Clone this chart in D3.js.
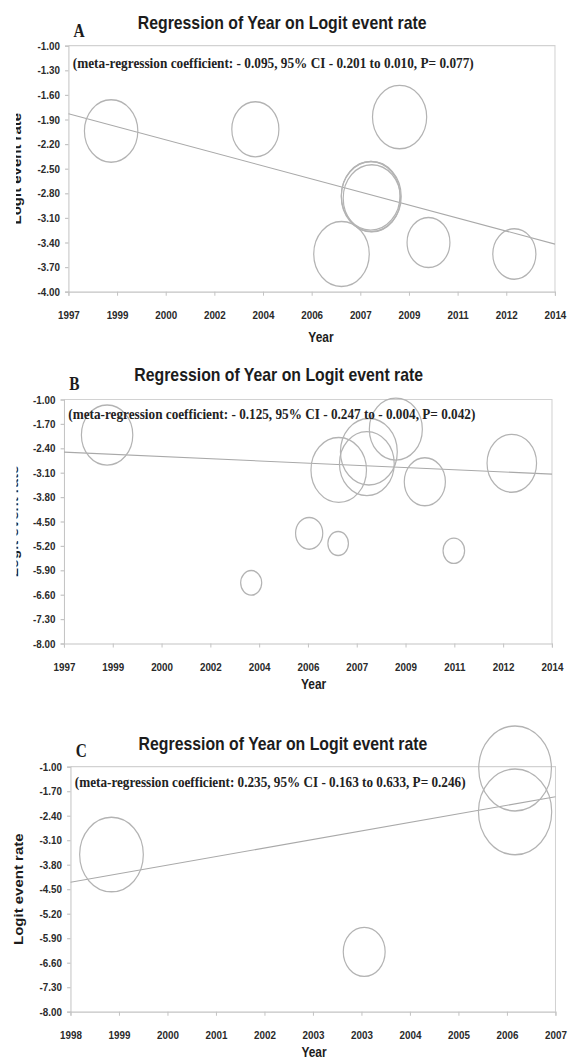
<!DOCTYPE html>
<html>
<head>
<meta charset="utf-8">
<script src="https://cdn.jsdelivr.net/npm/d3@7"></script>
<style>
  html, body { margin: 0; padding: 0; background: #fff; }
  svg { display: block; }
</style>
</head>
<body>
<svg id="fig"></svg>
<script>
// ---------------- data ----------------
// Panel A
const yearA   = [1998.49, 2003.53, 2008.57, 2007.58, 2007.56, 2007.60, 2006.54, 2009.58, 2012.58];
const logitA  = [-2.04, -2.02, -1.87, -2.84, -2.83, -2.86, -3.54, -3.40, -3.54];
const weightA = [13.5, 10.5, 13.9, 17.0, 16.3, 15.5, 14.6, 8.7, 8.8];
const lineYearA  = [1997, 2014];
const lineLogitA = [-1.83, -3.42];
const xLabelsA = ["1997", "1999", "2000", "2002", "2004", "2006", "2007", "2009", "2011", "2012", "2014"];
const yLabelsA = ["-1.00", "-1.30", "-1.60", "-1.90", "-2.20", "-2.50", "-2.80", "-3.10", "-3.40", "-3.70", "-4.00"];
const noteA = "(meta-regression coefficient: - 0.095, 95% CI - 0.201 to 0.010, P= 0.077)";

// Panel B
const yearB   = [1998.50, 2006.57, 2007.55, 2007.62, 2008.56, 2009.57, 2012.60, 2005.54, 2006.55, 2010.58, 2003.52];
const logitB  = [-2.02, -3.02, -2.84, -2.50, -1.85, -3.36, -2.83, -4.84, -5.13, -5.34, -6.26];
const weightB = [12.5, 14.6, 14.2, 15.3, 13.3, 8.0, 11.6, 3.5, 2.0, 2.2, 2.1];
const lineYearB  = [1997, 2014];
const lineLogitB = [-2.51, -3.14];
const xLabelsB = ["1997", "1999", "2000", "2002", "2004", "2006", "2007", "2009", "2011", "2012", "2014"];
const yLabelsB = ["-1.00", "-1.70", "-2.40", "-3.10", "-3.80", "-4.50", "-5.20", "-5.90", "-6.60", "-7.30", "-8.00"];
const noteB = "(meta-regression coefficient: - 0.125, 95% CI - 0.247 to - 0.004, P= 0.042)";

// Panel C
const yearC   = [1998.76, 2006.25, 2006.25, 2003.45];
const logitC  = [-3.51, -1.05, -2.29, -6.29];
const weightC = [19.2, 25.0, 25.4, 8.3];
const lineYearC  = [1998, 2007];
const lineLogitC = [-4.30, -1.86];
const xLabelsC = ["1998", "1999", "2000", "2001", "2002", "2003", "2003", "2004", "2005", "2006", "2007"];
const yLabelsC = ["-1.00", "-1.70", "-2.40", "-3.10", "-3.80", "-4.50", "-5.20", "-5.90", "-6.60", "-7.30", "-8.00"];
const noteC = "(meta-regression coefficient: 0.235, 95% CI - 0.163 to 0.633, P= 0.246)";

const titleText = "Regression of Year on Logit event rate";
const xTitle = "Year";
const yTitle = "Logit event rate";

// ---------------- layout ----------------
// Drawing happens in a horizontally stretched coordinate space that the
// viewBox compresses back to the page width (condensed figure look).
const W = 569, H = 1061, SX = 0.855;
const VW = W / SX;

const svg = d3.select("#fig")
  .attr("width", W).attr("height", H)
  .attr("viewBox", `0 0 ${VW} ${H}`)
  .attr("preserveAspectRatio", "none");

const sans = "'Liberation Sans', Arial, Helvetica, sans-serif";
const serif = "'Liberation Serif', 'Times New Roman', Times, serif";

const rScale = d3.scaleSqrt().domain([0, 1]).range([0, 8.5]);

const panels = [
  { letter: "A", year: yearA, logit: logitA, weight: weightA, lineYear: lineYearA, lineLogit: lineLogitA,
    xDomain: [1997, 2014], xLabels: xLabelsA, yLabels: yLabelsA, note: noteA,
    box: { l: 80.1, r: 649.1, t: 45.7, b: 291.7 },
    titleX: 330, titleY: 29.5, letterY: 37.5, noteY: 67.7, noteLen: 469,
    yearX: 375.4, yearY: 342, ylabX: 24.6, ylabClip: 18.7 },
  { letter: "B", year: yearB, logit: logitB, weight: weightB, lineYear: lineYearB, lineLogit: lineLogitB,
    xDomain: [1997, 2014], xLabels: xLabelsB, yLabels: yLabelsB, note: noteB,
    box: { l: 74.9, r: 645.6, t: 399.5, b: 643.5 },
    titleX: 326, titleY: 381, letterY: 390, noteY: 419, noteLen: 476,
    yearX: 366.8, yearY: 689, ylabX: 21.6, ylabClip: 19.3 },
  { letter: "C", year: yearC, logit: logitC, weight: weightC, lineYear: lineYearC, lineLogit: lineLogitC,
    xDomain: [1998, 2007], xLabels: xLabelsC, yLabels: yLabelsC, note: noteC,
    box: { l: 82.5, r: 649.7, t: 766.7, b: 1011.7 },
    titleX: 331, titleY: 750, letterY: 757.5, noteY: 787.3, noteLen: 457,
    yearX: 367.3, yearY: 1057, ylabX: 26.9, ylabClip: null }
];

panels.forEach((p, pi) => {
  const g = svg.append("g").attr("class", "panel-" + p.letter);
  const b = p.box;

  const yVals = p.yLabels.map(Number);
  const x = d3.scaleLinear().domain(p.xDomain).range([b.l, b.r]);
  const y = d3.scaleLinear().domain([yVals[0], yVals[yVals.length - 1]]).range([b.t, b.b]);

  const xTickVals = d3.range(p.xLabels.length)
    .map(i => p.xDomain[0] + i * (p.xDomain[1] - p.xDomain[0]) / (p.xLabels.length - 1));

  // plot frame (top and right edges)
  g.append("path")
    .attr("d", `M${b.l},${b.t}H${b.r}V${b.b}`)
    .attr("fill", "none").attr("stroke", "#d2d2d2").attr("stroke-width", 1.2);

  // axes
  const yAxis = d3.axisLeft(y).tickValues(yVals)
    .tickFormat((d, i) => p.yLabels[i]).tickSizeOuter(0).tickSize(4).tickPadding(6);
  const xAxis = d3.axisBottom(x).tickValues(xTickVals)
    .tickFormat((d, i) => p.xLabels[i]).tickSizeOuter(0).tickSize(4).tickPadding(15);

  const ya = g.append("g").attr("transform", `translate(${b.l},0)`).call(yAxis);
  const xa = g.append("g").attr("transform", `translate(0,${b.b})`).call(xAxis);
  [ya, xa].forEach(a => {
    a.select(".domain").attr("stroke", "#c4c4c4").attr("stroke-width", 1.2);
    a.selectAll(".tick line").attr("stroke", "#c4c4c4").attr("stroke-width", 1.2);
    a.selectAll(".tick text")
      .attr("fill", "#2a2a2a")
      .style("font-family", sans).style("font-weight", "bold").style("font-size", "11.5px");
  });

  // regression line
  g.append("line")
    .attr("x1", x(p.lineYear[0])).attr("y1", y(p.lineLogit[0]))
    .attr("x2", x(p.lineYear[1])).attr("y2", y(p.lineLogit[1]))
    .attr("stroke", "#a9a9a9").attr("stroke-width", 1.1);

  // study bubbles
  const studies = p.year.map((yr, i) => ({ yr, lg: p.logit[i], w: p.weight[i] }));
  g.append("g").selectAll("circle").data(studies).join("circle")
    .attr("cx", d => x(d.yr))
    .attr("cy", d => y(d.lg))
    .attr("r", d => rScale(d.w))
    .attr("fill", "none")
    .attr("stroke", "#b3b3b3")
    .attr("stroke-width", 1.4);

  // title
  g.append("text")
    .attr("x", p.titleX).attr("y", p.titleY)
    .attr("text-anchor", "middle")
    .attr("fill", "#1c1c1c")
    .style("font-family", sans).style("font-weight", "bold").style("font-size", "18.5px")
    .text(titleText);

  // panel letter
  g.append("text")
    .attr("x", b.l + 6).attr("y", p.letterY)
    .attr("fill", "#1c1c1c")
    .style("font-family", serif).style("font-weight", "bold").style("font-size", "18px")
    .text(p.letter);

  // meta-regression note
  g.append("text")
    .attr("x", b.l + 5).attr("y", p.noteY)
    .attr("fill", "#222")
    .attr("textLength", p.noteLen).attr("lengthAdjust", "spacingAndGlyphs")
    .style("font-family", serif).style("font-weight", "bold").style("font-size", "14px")
    .text(p.note);

  // x title
  g.append("text")
    .attr("x", p.yearX).attr("y", p.yearY)
    .attr("text-anchor", "middle")
    .attr("fill", "#1c1c1c")
    .style("font-family", sans).style("font-weight", "bold").style("font-size", "14px")
    .text(xTitle);

  // y title (left part trimmed by the panel edge where applicable)
  let yl = g;
  if (p.ylabClip !== null) {
    const cid = "ylab-clip-" + pi;
    svg.append("defs").append("clipPath").attr("id", cid)
      .append("rect").attr("x", p.ylabClip).attr("y", b.t).attr("width", 40).attr("height", b.b - b.t);
    yl = g.append("g").attr("clip-path", `url(#${cid})`);
  }
  yl.append("text")
    .attr("transform", `translate(${p.ylabX},${(b.t + b.b) / 2}) rotate(-90)`)
    .attr("text-anchor", "middle")
    .attr("fill", "#1c1c1c")
    .style("font-family", sans).style("font-weight", "bold").style("font-size", "15px")
    .text(yTitle);
});
</script>
</body>
</html>
